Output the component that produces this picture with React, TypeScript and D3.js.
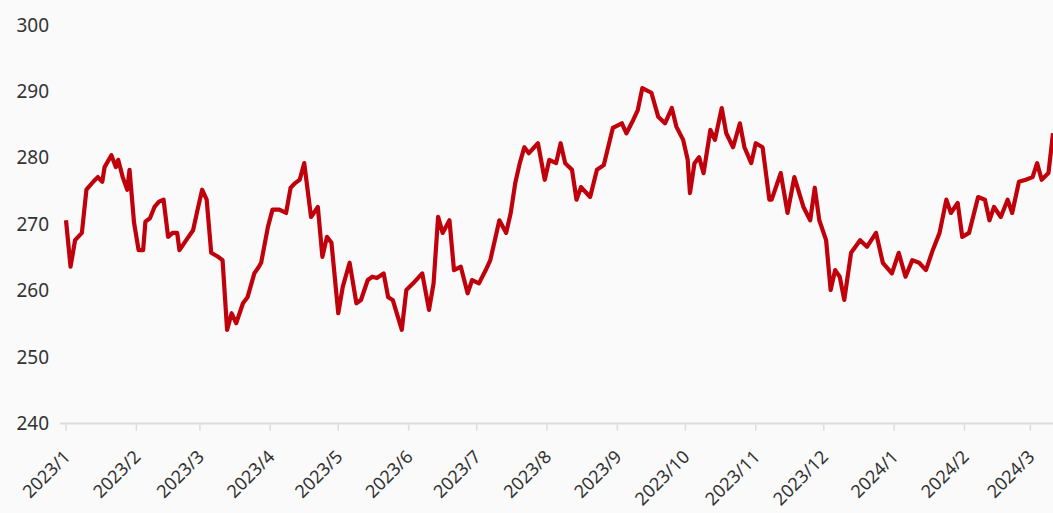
import React, { useEffect, useRef } from 'react';
import * as d3 from 'd3';

// daily closing values
const dates: string[] = [
  '2023-01-01', '2023-01-03', '2023-01-05', '2023-01-08', '2023-01-10', '2023-01-13', '2023-01-15', '2023-01-17',
  '2023-01-18', '2023-01-21', '2023-01-23', '2023-01-24', '2023-01-26', '2023-01-28', '2023-01-29', '2023-01-31',
  '2023-02-02', '2023-02-04', '2023-02-05', '2023-02-07', '2023-02-09', '2023-02-11', '2023-02-13', '2023-02-15',
  '2023-02-17', '2023-02-19', '2023-02-20', '2023-02-23', '2023-02-26', '2023-02-28', '2023-03-02', '2023-03-04',
  '2023-03-06', '2023-03-09', '2023-03-11', '2023-03-13', '2023-03-15', '2023-03-17', '2023-03-20', '2023-03-22',
  '2023-03-25', '2023-03-27', '2023-03-28', '2023-03-31', '2023-04-02', '2023-04-05', '2023-04-08', '2023-04-10',
  '2023-04-12', '2023-04-14', '2023-04-16', '2023-04-19', '2023-04-22', '2023-04-24', '2023-04-26', '2023-04-28',
  '2023-05-01', '2023-05-03', '2023-05-06', '2023-05-09', '2023-05-11', '2023-05-14', '2023-05-16', '2023-05-18',
  '2023-05-21', '2023-05-23', '2023-05-25', '2023-05-29', '2023-05-31', '2023-06-03', '2023-06-07', '2023-06-10',
  '2023-06-12', '2023-06-14', '2023-06-16', '2023-06-19', '2023-06-21', '2023-06-24', '2023-06-27', '2023-06-29',
  '2023-07-02', '2023-07-05', '2023-07-07', '2023-07-09', '2023-07-11', '2023-07-14', '2023-07-16', '2023-07-18',
  '2023-07-20', '2023-07-22', '2023-07-24', '2023-07-28', '2023-07-31', '2023-08-02', '2023-08-05', '2023-08-07',
  '2023-08-09', '2023-08-12', '2023-08-14', '2023-08-16', '2023-08-20', '2023-08-23', '2023-08-26', '2023-08-30',
  '2023-09-03', '2023-09-05', '2023-09-08', '2023-09-10', '2023-09-12', '2023-09-16', '2023-09-19', '2023-09-22',
  '2023-09-25', '2023-09-27', '2023-09-30', '2023-10-02', '2023-10-03', '2023-10-05', '2023-10-07', '2023-10-09',
  '2023-10-12', '2023-10-14', '2023-10-17', '2023-10-19', '2023-10-22', '2023-10-25', '2023-10-27', '2023-10-30',
  '2023-11-01', '2023-11-04', '2023-11-07', '2023-11-08', '2023-11-12', '2023-11-15', '2023-11-18', '2023-11-22',
  '2023-11-25', '2023-11-27', '2023-11-29', '2023-12-02', '2023-12-04', '2023-12-06', '2023-12-08', '2023-12-10',
  '2023-12-13', '2023-12-17', '2023-12-20', '2023-12-24', '2023-12-27', '2023-12-31', '2024-01-03', '2024-01-06',
  '2024-01-09', '2024-01-12', '2024-01-15', '2024-01-18', '2024-01-21', '2024-01-24', '2024-01-26', '2024-01-29',
  '2024-01-31', '2024-02-03', '2024-02-07', '2024-02-10', '2024-02-12', '2024-02-14', '2024-02-17', '2024-02-20',
  '2024-02-22', '2024-02-25', '2024-02-28', '2024-03-02', '2024-03-04', '2024-03-06', '2024-03-09', '2024-03-11',
];

const values: number[] = [
  270.6, 263.6, 267.6, 268.7, 275.2, 276.4, 277.1, 276.4,
  278.6, 280.4, 278.6, 279.7, 277.1, 275.2, 278.2, 270.2,
  266.1, 266.1, 270.4, 270.9, 272.6, 273.4, 273.7, 268.1,
  268.7, 268.7, 266.1, 267.6, 269.1, 272.2, 275.2, 273.7,
  265.7, 265.1, 264.6, 254.1, 256.6, 255.1, 258.1, 259.0,
  262.6, 263.6, 264.2, 269.6, 272.2, 272.2, 271.7, 275.5,
  276.2, 276.7, 279.2, 271.1, 272.6, 265.1, 268.1, 267.2,
  256.6, 260.6, 264.2, 258.1, 258.6, 261.6, 262.1, 261.9,
  262.6, 259.0, 258.6, 254.1, 260.1, 261.1, 262.6, 257.1,
  261.1, 271.1, 268.7, 270.6, 263.1, 263.6, 259.6, 261.6,
  261.1, 263.1, 264.6, 267.6, 270.6, 268.7, 271.7, 276.2,
  279.2, 281.6, 280.7, 282.2, 276.7, 279.7, 279.2, 282.2,
  279.2, 278.2, 273.7, 275.6, 274.1, 278.2, 278.9, 284.5,
  285.2, 283.7, 285.7, 287.2, 290.5, 289.8, 286.2, 285.2,
  287.5, 284.7, 282.7, 279.7, 274.7, 279.2, 280.1, 277.7,
  284.2, 282.7, 287.5, 283.7, 281.6, 285.2, 281.6, 279.2,
  282.2, 281.6, 273.7, 273.7, 277.7, 271.7, 277.1, 272.6,
  270.6, 275.5, 270.6, 267.6, 260.1, 263.1, 262.1, 258.6,
  265.7, 267.6, 266.6, 268.7, 264.2, 262.6, 265.7, 262.1,
  264.6, 264.2, 263.1, 266.1, 268.7, 273.7, 271.7, 273.2,
  268.1, 268.7, 274.1, 273.7, 270.6, 272.6, 271.1, 273.7,
  271.7, 276.4, 276.7, 277.1, 279.2, 276.7, 277.7, 283.7,
];

const yTicks: number[] = [240, 250, 260, 270, 280, 290, 300];
const monthTicks: string[] = [
  '2023-01-01', '2023-02-01', '2023-03-01', '2023-04-01', '2023-05-01', '2023-06-01', '2023-07-01', '2023-08-01',
  '2023-09-01', '2023-10-01', '2023-11-01', '2023-12-01', '2024-01-01', '2024-02-01', '2024-03-01',
];

const width = 1053, height = 513;

function Chart() {
  const ref = useRef<SVGSVGElement>(null);

  useEffect(() => {
    if (ref.current == null) return;
    const parse = d3.timeParse('%Y-%m-%d');
    const data = dates.map((d, i) => ({ date: parse(d) as Date, value: values[i] }));
    const ticks = monthTicks.map(d => parse(d) as Date);

    const svg = d3.select(ref.current);
    svg.selectAll('*').remove();

    svg.append('rect')
      .attr('width', width)
      .attr('height', height)
      .attr('fill', '#fafafa');

    const x = d3.scaleTime()
      .domain([parse('2023-01-01') as Date, parse('2024-03-11') as Date])
      .range([66, 1053]);
    const y = d3.scaleLinear().domain([240, 300]).range([423.5, 25]);

    const font = '"Noto Sans", "DejaVu Sans", sans-serif';

    // y labels, no axis line
    svg.append('g')
      .selectAll('text')
      .data(yTicks)
      .join('text')
      .attr('x', 49)
      .attr('y', d => y(d))
      .attr('dy', '0.35em')
      .attr('text-anchor', 'end')
      .attr('font-family', font)
      .attr('font-size', 19)
      .attr('fill', '#333')
      .text(d => d);

    // x axis baseline + month ticks
    svg.append('line')
      .attr('x1', 60).attr('x2', width)
      .attr('y1', y(240)).attr('y2', y(240))
      .attr('stroke', '#dcdcdc')
      .attr('stroke-width', 2);

    svg.append('g')
      .selectAll('line')
      .data(ticks)
      .join('line')
      .attr('x1', d => x(d)).attr('x2', d => x(d))
      .attr('y1', y(240) + 1).attr('y2', y(240) + 7)
      .attr('stroke', '#dcdcdc')
      .attr('stroke-width', 1.5);

    svg.append('g')
      .selectAll('text')
      .data(ticks)
      .join('text')
      .attr('transform', d => `translate(${x(d) + 1},${y(240) + 30}) rotate(-45)`)
      .attr('text-anchor', 'end')
      .attr('dy', '0.35em')
      .attr('font-family', font)
      .attr('font-size', 18)
      .attr('fill', '#333')
      .text(d => d3.timeFormat('%Y/')(d) + (d.getMonth() + 1));

    const line = d3.line<{ date: Date; value: number }>()
      .x(d => x(d.date))
      .y(d => y(d.value));

    svg.append('path')
      .datum(data)
      .attr('fill', 'none')
      .attr('stroke', '#c0000a')
      .attr('stroke-width', 4.2)
      .attr('stroke-linejoin', 'round')
      .attr('d', line);
  }, []);

  return (
    <svg ref={ref} width={width} height={height}
      style={{ position: 'absolute', left: 0, top: 0, display: 'block' }} />
  );
}

export default function App() {
  return <Chart />;
}
